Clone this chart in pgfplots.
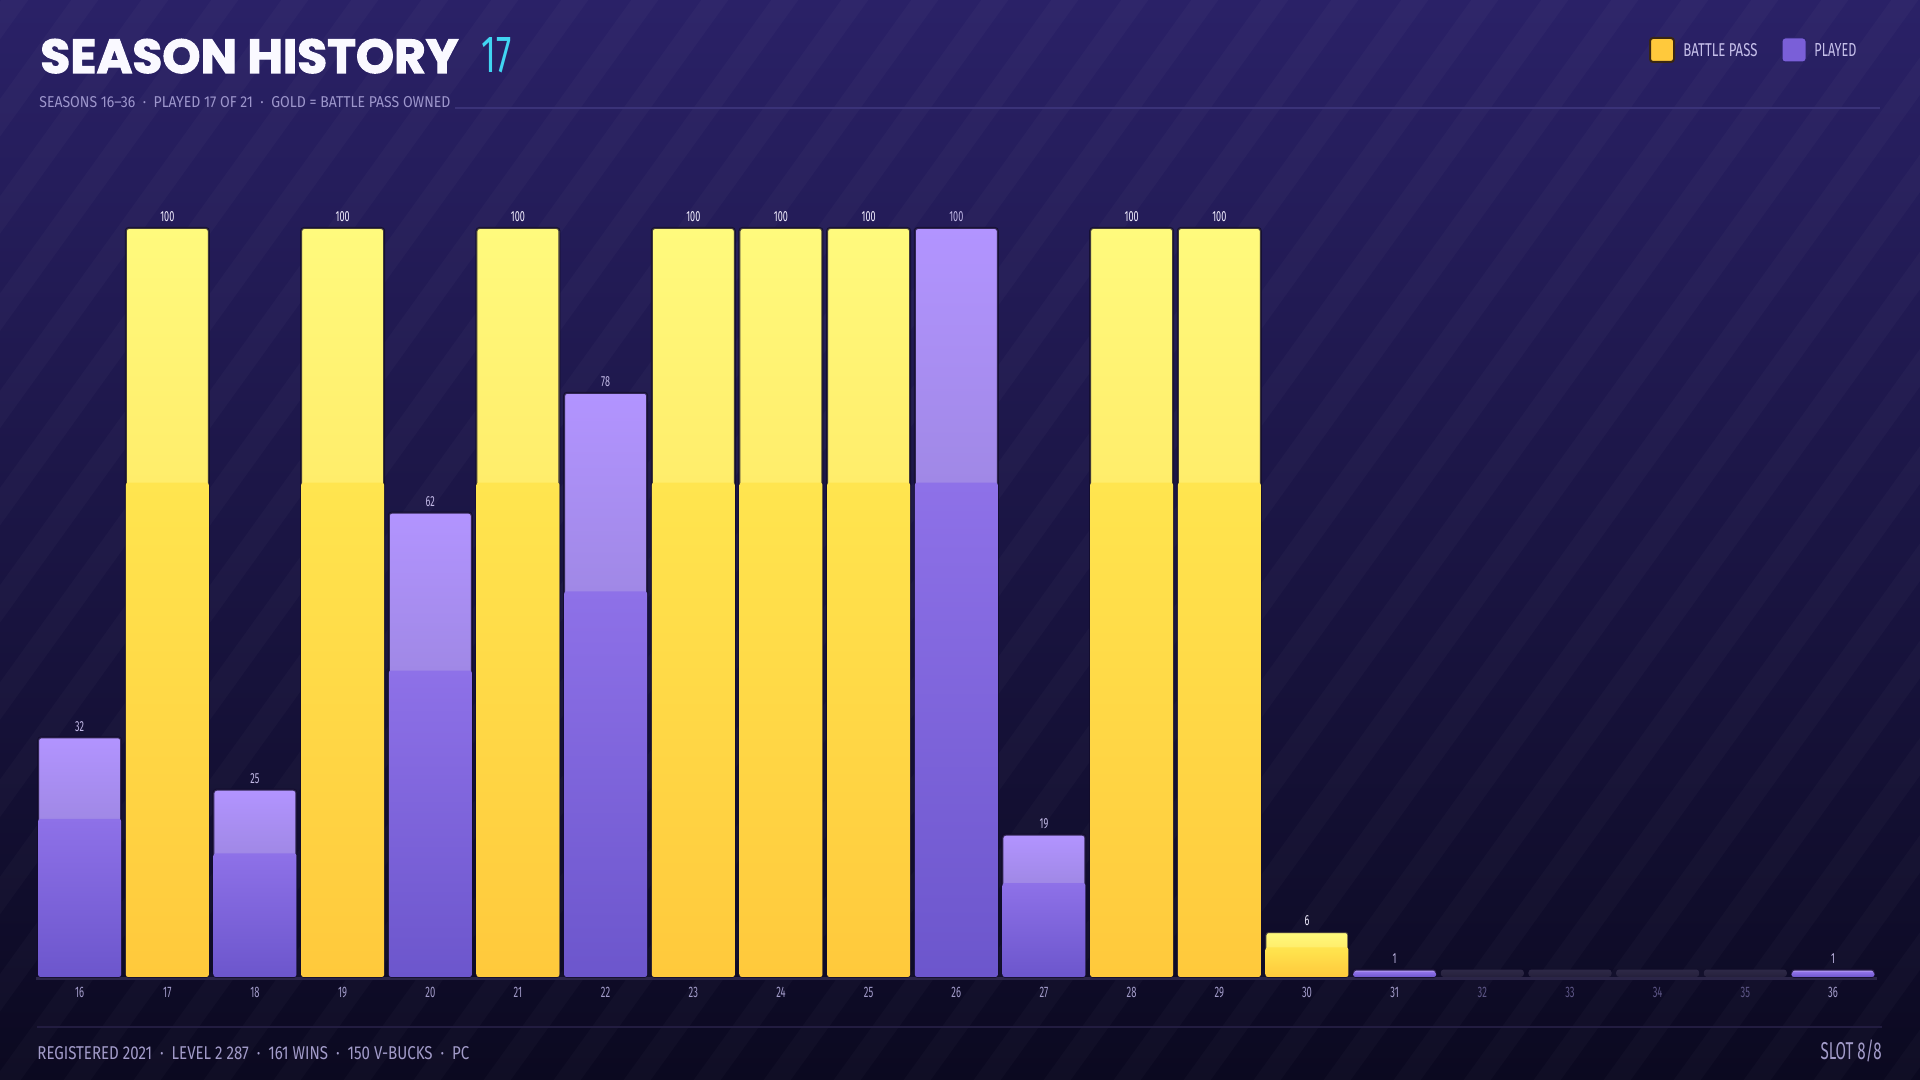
\documentclass[border=0pt]{standalone}
\usepackage{pgfplots}
\pgfplotsset{compat=1.18}
\usepackage{fontspec}
\usepackage{graphicx}
\setmainfont{Fira Sans}
\newfontfamily\titlefont[BoldFeatures={FakeBold=2.2}]{Poppins}
\newfontfamily\cond[FakeStretch=0.62]{Fira Sans}

\definecolor{bgtop}{HTML}{2A2167}
\definecolor{bgmid}{HTML}{181141}
\definecolor{bgbot}{HTML}{0B0920}
\definecolor{goldA}{HTML}{FFFA7D}
\definecolor{goldB}{HTML}{FFD448}
\definecolor{goldC}{HTML}{FFE54F}
\definecolor{goldD}{HTML}{FFC93C}
\definecolor{purA}{HTML}{B294FF}
\definecolor{purB}{HTML}{7D71B5}
\definecolor{purC}{HTML}{8E71E8}
\definecolor{purD}{HTML}{6C56CC}
\definecolor{phA}{HTML}{2E2947}
\definecolor{phB}{HTML}{25203C}
\definecolor{subcol}{HTML}{9D96CC}
\definecolor{tickcol}{HTML}{A29BC9}
\definecolor{dimtick}{HTML}{5C5585}
\definecolor{valgold}{HTML}{F2EEFF}
\definecolor{valpur}{HTML}{C2B9E6}
\definecolor{cyanT}{HTML}{41D5F2}
\definecolor{rulecol}{HTML}{3A3278}
\definecolor{footrule}{HTML}{221C40}
\definecolor{baseln}{HTML}{2B2548}
\definecolor{legtxt}{HTML}{C6C0EA}
\definecolor{legpur}{HTML}{7A5FD8}
\definecolor{leggold}{HTML}{FFC93C}
\definecolor{barline}{HTML}{120C2A}

\pgfplotsset{
  barbase/.style={ybar, bar width=0.947, bar shift=0pt},
  goldfull/.style={barbase, draw=barline, draw opacity=0.8, line width=1pt,
    top color=goldA, bottom color=goldB, rounded corners=1.5pt,
    point meta=explicit symbolic, nodes near coords,
    every node near coord/.append style={text=valgold}},
  goldlow/.style={barbase, draw=none, top color=goldC, bottom color=goldD,
    rounded corners=1.2pt, y filter/.expression={0.66*y}},
  purfull/.style={barbase, draw=barline, draw opacity=0.8, line width=1pt,
    top color=purA, bottom color=purB, rounded corners=1.5pt,
    point meta=explicit symbolic, nodes near coords,
    every node near coord/.append style={text=valpur}},
  purlow/.style={barbase, draw=none, top color=purC, bottom color=purD,
    rounded corners=1.2pt, y filter/.expression={0.66*y}},
  phbar/.style={barbase, draw=none, top color=phA, bottom color=phB, rounded corners=1.5pt},
}
% #1 = position (season - 16), #2 = value
\newcommand\goldbar[2]{%
  \addplot[goldfull] coordinates {(#1,#2) [#2]};
  \addplot[goldlow] coordinates {(#1,#2)};
}
\newcommand\purbar[2]{%
  \addplot[purfull] coordinates {(#1,#2) [#2]};
  \addplot[purlow] coordinates {(#1,#2)};
}

\begin{document}
\begin{tikzpicture}[x=0.5pt,y=0.5pt]
\useasboundingbox (0,0) rectangle (1920,1080);
\shade[top color=bgtop, middle color=bgmid, bottom color=bgbot] (0,0) rectangle (1920,1080);
\begin{scope}
\clip (0,0) rectangle (1920,1080);
\foreach \i in {-13,...,28} {
  \draw[white, opacity=0.024, line width=11pt] (\i*70,-10) -- ++(792,1100);
}
\end{scope}

% title
\node[anchor=base west, inner sep=0pt, text=white!94!purA] at (40,1007)
  {\resizebox{209pt}{17pt}{\titlefont\bfseries SEASON HISTORY}};
\node[anchor=base west, inner sep=0pt, text=cyanT] at (481,1007)
  {\resizebox{15pt}{17.5pt}{\cond 17}};
\node[anchor=base west, inner sep=0pt, text=subcol] at (39,972)
  {\resizebox{205.5pt}{5.5pt}{\cond SEASONS 16–36 \ · \ PLAYED 17 OF 21 \ · \ GOLD = BATTLE PASS OWNED}};
\draw[rulecol, line width=0.6pt] (455,972) -- (1880,972);

% legend
\filldraw[fill=leggold, draw=black!70!brown, line width=1pt, rounded corners=1.5pt] (1650,1018) rectangle (1674,1042);
\node[anchor=base west, inner sep=0pt, text=legtxt] at (1683,1023)
  {\resizebox{37pt}{6.5pt}{\cond BATTLE PASS}};
\filldraw[fill=legpur, draw=bgtop, line width=0.5pt, rounded corners=1.5pt] (1782,1018) rectangle (1806,1042);
\node[anchor=base west, inner sep=0pt, text=legtxt] at (1814,1023)
  {\resizebox{21pt}{6.5pt}{\cond PLAYED}};

% footer
\draw[footrule, line width=1pt] (37,53) -- (1882,53);
\node[anchor=base west, inner sep=0pt, text=tickcol] at (37,20)
  {\resizebox{216pt}{6.5pt}{\cond REGISTERED 2021 \ · \ LEVEL 2 287 \ · \ 161 WINS \ · \ 150 V-BUCKS \ · \ PC}};
\node[anchor=base east, inner sep=0pt, text=tickcol] at (1882,20)
  {\resizebox{30.5pt}{!}{\cond\fontsize{9.4}{10}\selectfont SLOT 8/8}};

\begin{axis}[
  at={(17.9pt,51.5pt)}, anchor=south west, scale only axis,
  width=920.5pt, height=374.5pt,
  xmin=-0.5, xmax=20.5, ymin=0, ymax=100,
  clip=false,
  axis line style={draw=none},
  ytick=\empty,
  xtick={0,...,20},
  xticklabels={16,17,18,19,20,21,22,23,24,25,26,27,28,29,30,31,
    \textcolor{dimtick}{32},\textcolor{dimtick}{33},\textcolor{dimtick}{34},\textcolor{dimtick}{35},36},
  major tick length=0pt,
  xticklabel style={font=\cond\fontsize{7.6}{8}\selectfont, text=tickcol, inner sep=0pt, anchor=north, yshift=-5pt},
  every node near coord/.append style={font=\cond\fontsize{7.3}{8}\selectfont, inner sep=0pt, anchor=south, yshift=2.5pt},
]
\draw[baseln, line width=1.2pt] ([yshift=-0.8pt]axis cs:-0.5,0) -- ([yshift=-0.8pt]axis cs:20.5,0);

% placeholder bars (seasons 32-35, not played)
\addplot[phbar] coordinates {(16,1) (17,1) (18,1) (19,1)};

% played seasons (purple)
\purbar{0}{32}
\purbar{2}{25}
\purbar{4}{62}
\purbar{6}{78}
\purbar{10}{100}
\purbar{11}{19}
\purbar{15}{1}
\purbar{20}{1}

% battle pass owned (gold)
\goldbar{1}{100}
\goldbar{3}{100}
\goldbar{5}{100}
\goldbar{7}{100}
\goldbar{8}{100}
\goldbar{9}{100}
\goldbar{12}{100}
\goldbar{13}{100}
\goldbar{14}{6}
\end{axis}
\end{tikzpicture}
\end{document}
